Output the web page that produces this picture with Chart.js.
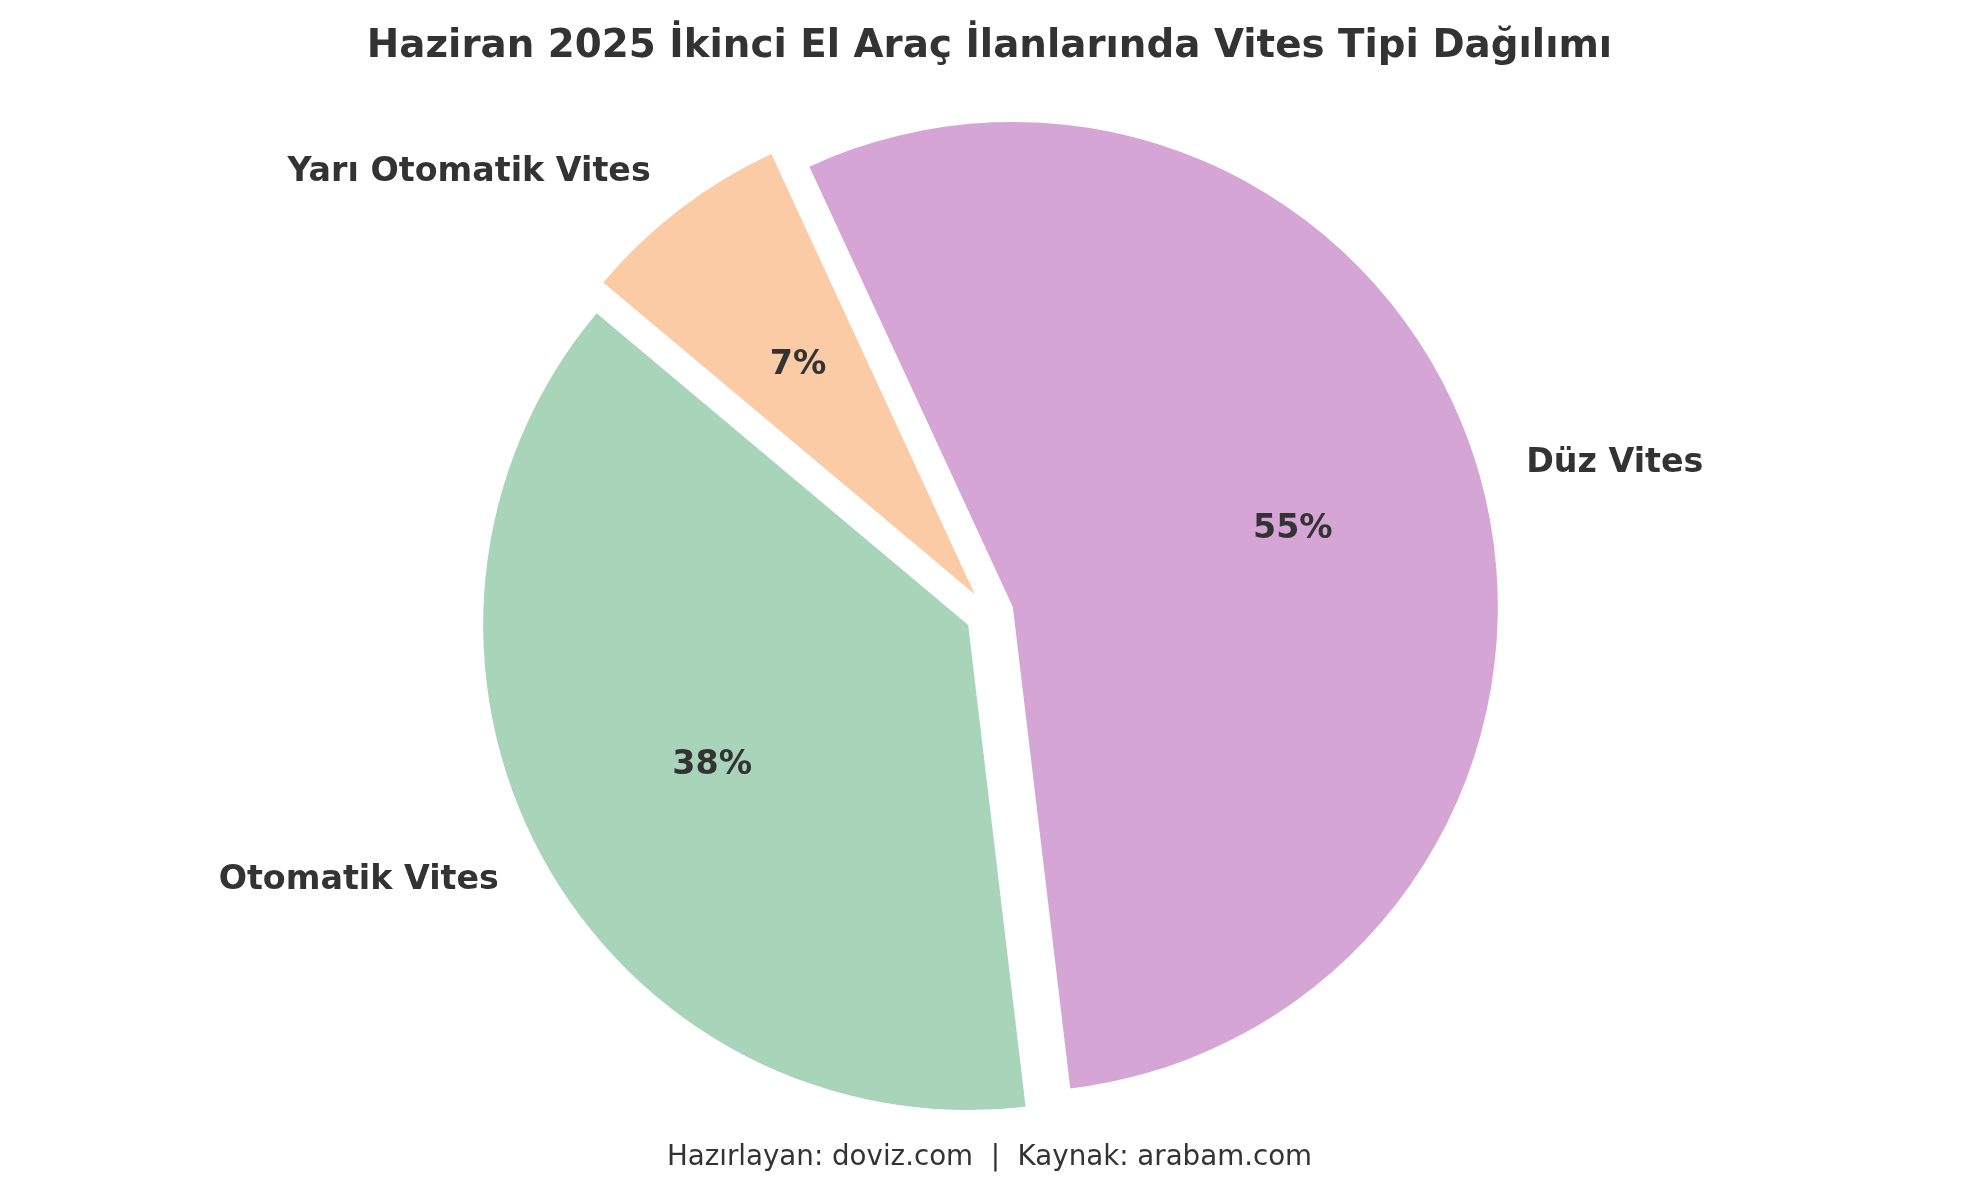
<!DOCTYPE html>
<html>
<head>
<meta charset="utf-8">
<script src="https://cdn.jsdelivr.net/npm/chart.js@4.4.1/dist/chart.umd.min.js"></script>
<style>
  html, body { margin: 0; padding: 0; background: #ffffff; }
  #wrap { width: 1979px; height: 1192px; position: relative; }
</style>
</head>
<body>
<div id="wrap"><canvas id="c" width="1979" height="1192"></canvas></div>
<script>
// ---- data ----
const categories = ['Düz Vites', 'Otomatik Vites', 'Yarı Otomatik Vites'];
const shares = [55, 38, 7];
const titleText = 'Haziran 2025 İkinci El Araç İlanlarında Vites Tipi Dağılımı';
const footerText = 'Hazırlayan: doviz.com  |  Kaynak: arabam.com';

// ---- style ----
const sliceColors = ['#d5a6d5', '#a8d4b9', '#facba5'];
const TEXT = '#333333';
const FONT = '"DejaVu Sans", sans-serif';
const RADIUS = 485;
const EXPLODE = 0.05;      // fraction of radius
const LABEL_DIST = 1.1;
const PCT_DIST = 0.6;
const TEXT_SHIFT = 1.8;    // baseline nudge (px)

const explodePlugin = {
  id: 'explodeSlices',
  beforeDatasetDraw(chart, args) {
    args.meta.data.forEach(arc => {
      if (arc._exploded) return;
      const orig = arc.draw.bind(arc);
      arc.draw = function (ctx) {
        const mid = (this.startAngle + this.endAngle) / 2;
        const d = this.outerRadius * EXPLODE;
        ctx.save();
        ctx.translate(Math.cos(mid) * d, Math.sin(mid) * d);
        orig(ctx);
        ctx.restore();
      };
      arc._exploded = true;
    });
  }
};

const labelPlugin = {
  id: 'sliceLabels',
  afterDatasetsDraw(chart) {
    const ctx = chart.ctx;
    const meta = chart.getDatasetMeta(0);
    const data = chart.data.datasets[0].data;
    const total = data.reduce((a, b) => a + b, 0);
    ctx.save();
    ctx.fillStyle = TEXT;
    ctx.textBaseline = 'middle';
    meta.data.forEach((arc, i) => {
      const mid = (arc.startAngle + arc.endAngle) / 2;
      const r = arc.outerRadius;
      const e = r * EXPLODE;
      const cx = Math.cos(mid), cy = Math.sin(mid);
      // outer label
      ctx.font = 'bold 33.3px ' + FONT;
      ctx.textAlign = cx > 0 ? 'left' : 'right';
      ctx.fillText(chart.data.labels[i], arc.x + cx * (e + LABEL_DIST * r), arc.y + cy * (e + LABEL_DIST * r) + TEXT_SHIFT);
      // percentage
      ctx.font = 'bold 33.3px ' + FONT;
      ctx.textAlign = 'center';
      ctx.fillText(Math.round(data[i] / total * 100) + '%', arc.x + cx * (e + PCT_DIST * r), arc.y + cy * (e + PCT_DIST * r) + TEXT_SHIFT);
    });
    // footer
    ctx.font = '27.7px ' + FONT;
    ctx.textAlign = 'center';
    ctx.fillText(footerText, chart.width / 2, 1158);
    ctx.restore();
  }
};

new Chart(document.getElementById('c'), {
  type: 'pie',
  data: {
    labels: categories,
    datasets: [{
      data: shares,
      backgroundColor: sliceColors,
      borderWidth: 0,
      hoverOffset: 0
    }]
  },
  options: {
    responsive: false,
    animation: false,
    rotation: -24.8,
    radius: RADIUS,
    layout: { padding: { top: 0, bottom: 35, left: 0, right: 0 } },
    events: [],
    plugins: {
      legend: { display: false },
      tooltip: { enabled: false },
      title: {
        display: true,
        text: titleText,
        color: TEXT,
        font: { family: FONT, size: 38.8, weight: 'bold', lineHeight: 1.2 },
        padding: { top: 23.5, bottom: 0 }
      }
    }
  },
  plugins: [explodePlugin, labelPlugin]
});
</script>
</body>
</html>
